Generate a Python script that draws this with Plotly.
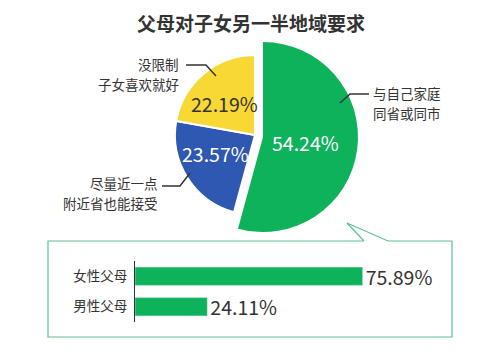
import plotly.graph_objects as go

# ---- data ----
pie_labels = ["与自己家庭<br>同省或同市", "尽量近一点<br>附近省也能接受", "没限制<br>子女喜欢就好"]
pie_values = [54.24, 23.57, 22.19]
pie_colors = ["#0db25a", "#2f58b3", "#f8d834"]

bar_cats = ["女性父母", "男性父母"]
bar_values = [75.89, 24.11]
bar_color = "#0db25a"

title_text = "父母对子女另一半地域要求"

W, H = 500, 355
FONT = "Noto Sans CJK SC"
TXT = "#333333"
BOX = "#5cc294"


def px(x):
    return x / W


def py(y):
    return 1 - y / H


def dom_circle(cx, cy, r):
    return dict(x=[px(cx - r), px(cx + r)], y=[py(cy + r), py(cy - r)])


fig = go.Figure()
T = "rgba(0,0,0,0)"

# big (exploded) green slice
fig.add_trace(go.Pie(
    values=pie_values, labels=pie_labels, sort=False, direction="clockwise", rotation=0,
    marker=dict(colors=[pie_colors[0], T, T], line=dict(width=0)),
    textinfo="none", hoverinfo="none", showlegend=False,
    domain=dom_circle(263, 137, 95),
))
# smaller blue / yellow slices
fig.add_trace(go.Pie(
    values=pie_values, labels=pie_labels, sort=False, direction="clockwise", rotation=0,
    marker=dict(colors=[T, pie_colors[1], pie_colors[2]],
                line=dict(width=[0, 2, 2], color="white")),
    textinfo="none", hoverinfo="none", showlegend=False,
    domain=dom_circle(255, 135, 80),
))

# bars
fig.add_trace(go.Bar(
    x=bar_values, y=bar_cats, orientation="h", marker=dict(color=bar_color),
    width=0.6, text=[f"{v:.2f}%" for v in bar_values], textposition="outside",
    constraintext="none",
    textfont=dict(family=FONT, size=19.5, color=TXT), cliponaxis=False,
    hoverinfo="none", showlegend=False,
))

annotations = []


def ann(x, y, text, size, color=TXT, xanchor="center"):
    annotations.append(dict(x=px(x), y=py(y), xref="paper", yref="paper", text=text,
                            showarrow=False, xanchor=xanchor, yanchor="middle", borderpad=0,
                            font=dict(family=FONT, size=size, color=color)))


# title
ann(251, 22, f"<b>{title_text}</b>", 19)
# pie percentage labels
pct_pos = [(305, 142, "white"), (215, 153, "white"), (224, 103, TXT)]
for v, (x, y, c) in zip(pie_values, pct_pos):
    ann(x, y, f"{v:.2f}%", 19.5, c)
# category labels (one annotation per line)
cat_pos = [(372, (93, 113), "left"), (159, (183, 203), "right"), (180, (64, 84), "right")]
for lab, (x, ys, al) in zip(pie_labels, cat_pos):
    for line, y in zip(lab.split("<br>"), ys):
        ann(x, y, line, 13.5, TXT, al)

shapes = []


def polyline(pts, color=TXT, width=1.5):
    path = "M " + " L ".join(f"{px(x)},{py(y)}" for x, y in pts)
    shapes.append(dict(type="path", path=path, xref="paper", yref="paper",
                       line=dict(color=color, width=width)))


polyline([(340, 103), (350, 94), (369, 94)])
polyline([(162, 186), (180, 186), (190, 173)])
polyline([(186, 65), (206, 65), (216, 76)])

# callout box with tail
polyline([(364, 241), (48, 241), (48, 337), (452, 337), (452, 241), (388, 241), (347, 223), (364, 241)],
         color=BOX, width=1.2)

fig.update_layout(
    width=W, height=H, margin=dict(l=0, r=0, t=0, b=0),
    paper_bgcolor="white", plot_bgcolor="rgba(0,0,0,0)",
    annotations=annotations, shapes=shapes,
    xaxis=dict(domain=[px(135), px(435)], range=[0, 100], visible=False),
    yaxis=dict(domain=[py(322), py(261)], range=[1.5, -0.5], type="category",
               categoryorder="array", categoryarray=bar_cats,
               showline=True, linecolor=TXT, linewidth=1, ticks="", showgrid=False,
               tickfont=dict(family=FONT, size=13.5, color=TXT), ticklabelstandoff=4),
    bargap=0.4,
)

fig.write_html("out.html")
